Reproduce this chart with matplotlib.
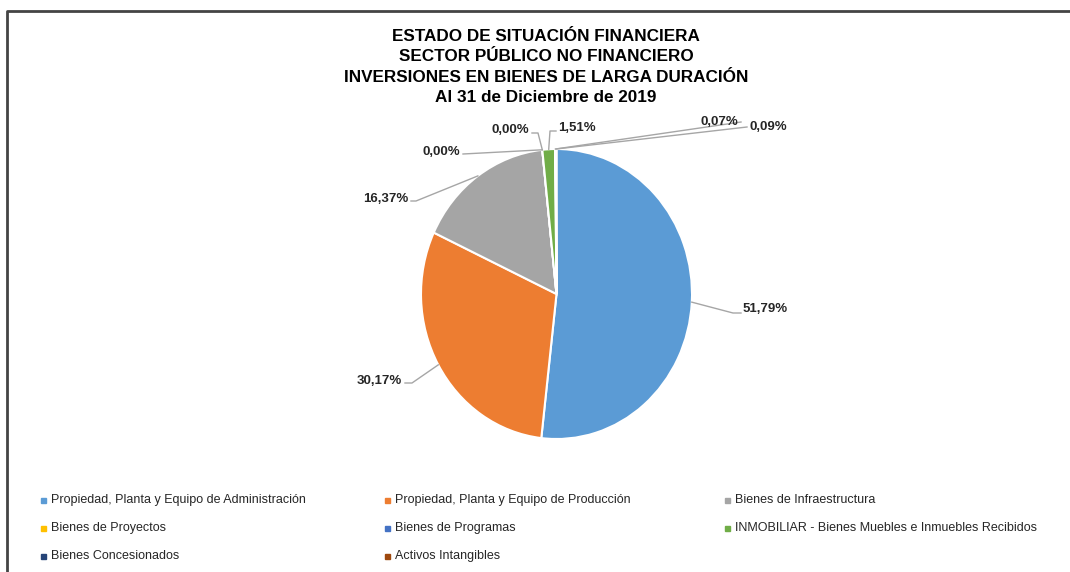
import numpy as np
import matplotlib
matplotlib.use('Agg')
import matplotlib.pyplot as plt
from matplotlib.patches import Rectangle

plt.rcParams['font.family'] = ['Liberation Sans', 'DejaVu Sans']

# datos
categorias = ['Propiedad, Planta y Equipo de Administración',
              'Propiedad, Planta y Equipo de Producción',
              'Bienes de Infraestructura',
              'Bienes de Proyectos',
              'Bienes de Programas',
              'INMOBILIAR - Bienes Muebles e Inmuebles Recibidos',
              'Bienes Concesionados',
              'Activos Intangibles']
porcentajes = [51.79, 30.17, 16.37, 0.00, 0.00, 1.51, 0.07, 0.09]
colores = ['#5B9BD5', '#ED7D31', '#A5A5A5', '#FFC000',
           '#4472C4', '#70AD47', '#264478', '#9E480E']
titulo = ('ESTADO DE SITUACIÓN FINANCIERA\n'
          'SECTOR PÚBLICO NO FINANCIERO\n'
          'INVERSIONES EN BIENES DE LARGA DURACIÓN\n'
          'Al 31 de Diciembre de 2019')

W, H = 1070, 572
fig = plt.figure(figsize=(W / 100, H / 100), dpi=100)

# centro y radios del pastel en pixeles
cx, cy, rx, ry = 556.5, 294, 135.5, 145
ax = fig.add_axes([(cx - rx) / W, 1 - (cy + ry) / H, 2 * rx / W, 2 * ry / H])
wedges, _ = ax.pie(porcentajes, colors=colores, startangle=90, counterclock=False,
                   radius=1, wedgeprops=dict(edgecolor='white', linewidth=1.5))
ax.set_xlim(-1, 1)
ax.set_ylim(-1, 1)
ax.set_aspect('auto')
ax.axis('off')

# capa en pixeles para textos y lineas
ov = fig.add_axes([0, 0, 1, 1], zorder=5)
ov.set_xlim(0, W)
ov.set_ylim(H, 0)
ov.axis('off')
ov.patch.set_alpha(0)

# borde del grafico
ov.plot([6.5, 6.5, W], [H, 11, 11], color='#444444', lw=2, solid_capstyle='butt')

ov.text(546, 67, titulo, ha='center', va='center', fontsize=12.3,
        fontweight='bold', linespacing=1.42)

# posicion de etiquetas: (x, y, alineacion, codo)
etiquetas = [(743, 309, 'left', (733, 313)),
             (402, 381, 'right', (412, 383)),
             (408, 199, 'right', (416, 201)),
             (460, 152, 'right', (463, 154)),
             (529, 130, 'right', (538, 133)),
             (558, 128, 'left', (550, 131)),
             (738, 122, 'right', (741, 122)),
             (749, 127, 'left', (747, 127))]

for w, p, (tx, ty, al, codo) in zip(wedges, porcentajes, etiquetas):
    ang = np.deg2rad((w.theta1 + w.theta2) / 2)
    px = cx + rx * np.cos(ang)
    py = cy - ry * np.sin(ang)
    if al == 'left':
        ex = tx - 2
    else:
        ex = tx + 3
    ov.plot([px, codo[0], ex], [py, codo[1], codo[1]], color='#A6A6A6', lw=1)
    ov.text(tx, ty, ('%.2f%%' % p).replace('.', ','), ha=al, va='center',
            fontsize=9.5, fontweight='bold', color='#262626')

# leyenda manual en 3 columnas
col_x = [43, 387, 727]
fila_y = [500, 528, 556]
for i, (nombre, c) in enumerate(zip(categorias, colores)):
    x = col_x[i % 3]
    y = fila_y[i // 3]
    ov.add_patch(Rectangle((x - 2.5, y - 2.5), 5, 5, color=c))
    ov.text(x + 8, y, nombre, ha='left', va='center', fontsize=9.0, color='#262626')

fig.savefig('out.png', dpi=100)
